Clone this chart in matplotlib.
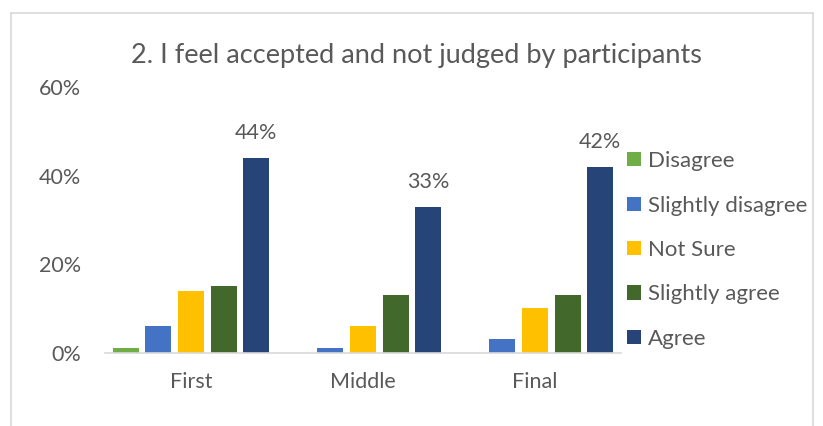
import matplotlib
matplotlib.use("Agg")
import matplotlib.pyplot as plt
from matplotlib.patches import Patch
from matplotlib.lines import Line2D
import numpy as np

categories = ["First", "Middle", "Final"]
series = ["Disagree", "Slightly disagree", "Not Sure", "Slightly agree", "Agree"]
disagree = [0.01, 0.0, 0.0]
slightly_disagree = [0.06, 0.01, 0.03]
not_sure = [0.14, 0.06, 0.10]
slightly_agree = [0.15, 0.13, 0.13]
agree = [0.44, 0.33, 0.42]
colors = ["#70AD47", "#4472C4", "#FFC000", "#43682B", "#264478"]

plt.rcParams["font.family"] = ["Lato", "DejaVu Sans"]
text_color = "#595959"

fig = plt.figure(figsize=(8.23, 4.26), dpi=100)
ax = fig.add_axes([105 / 823, 1 - 352.7 / 426, 516 / 823, (352.7 - 87) / 426])

x = np.arange(len(categories))
step = 0.19
width = 0.151
values = [disagree, slightly_disagree, not_sure, slightly_agree, agree]
for i, (name, vals, c) in enumerate(zip(series, values, colors)):
    bars = ax.bar(x + (i - 2) * step, vals, width, color=c, label=name)
    if name == "Agree":
        for b, v in zip(bars, vals):
            ax.text(b.get_x() + b.get_width() / 2, v + 0.033, f"{v:.0%}",
                    ha="center", va="bottom", fontsize=15.5, color=text_color)

ax.set_xlim(-0.5, 2.5)
ax.set_ylim(0, 0.6)
ax.set_yticks([0, 0.2, 0.4, 0.6])
ax.set_yticklabels(["0%", "20%", "40%", "60%"])
ax.set_xticks(x)
ax.set_xticklabels(categories)
ax.tick_params(length=0, labelsize=15.5, labelcolor=text_color)
ax.tick_params(axis="y", pad=17)
ax.tick_params(axis="x", pad=14)
for s in ["top", "right", "left"]:
    ax.spines[s].set_visible(False)
ax.spines["bottom"].set_color("#D9D9D9")
ax.spines["bottom"].set_linewidth(1.2)

fig.text(416 / 823, 1 - 55 / 426, "2. I feel accepted and not judged by participants",
         ha="center", va="center", fontsize=19.5, color=text_color)

handles = [Patch(facecolor=c, edgecolor="none") for c in colors]
fig.legend(handles, series, loc="upper left", bbox_to_anchor=(616 / 823, 1 - 140 / 426),
           frameon=False, fontsize=16, labelcolor=text_color, handlelength=0.62,
           handleheight=0.62, handletextpad=0.3, labelspacing=1.1, borderpad=0)

# chart frame
frame_color = "#D9D9D9"
fig.add_artist(Line2D([11 / 823, 11 / 823], [0, 1 - 13 / 426], color=frame_color, lw=1.2))
fig.add_artist(Line2D([813 / 823, 813 / 823], [0, 1 - 13 / 426], color=frame_color, lw=1.2))
fig.add_artist(Line2D([11 / 823, 813 / 823], [1 - 13 / 426, 1 - 13 / 426], color=frame_color, lw=1.2))

fig.savefig("out.png", dpi=100)
